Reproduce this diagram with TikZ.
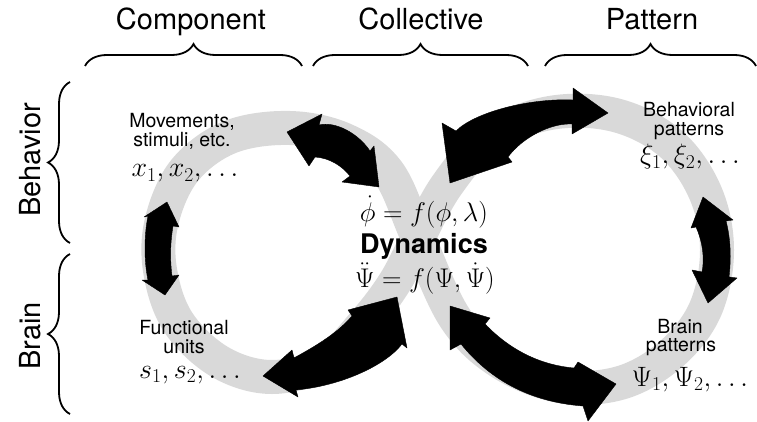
\RequirePackage{fix-cm}
\documentclass[tikz,border=0pt]{standalone}
\usepackage{fontspec}
\setmainfont{TeX Gyre Heros}
\usetikzlibrary{decorations.pathreplacing}
\begin{document}
\begin{tikzpicture}[x=1pt,y=-1pt,
  band/.style={line width=34pt, draw=black!15},
  fat/.style={fill=black, draw=black, line width=0.4pt, line join=round},
  hdr/.style={font=\fontsize{29}{32}\selectfont, anchor=base, inner sep=0pt},
  lbl/.style={font=\fontsize{19.5}{21}\selectfont, anchor=base, inner sep=0pt},
  mth/.style={font=\fontsize{28}{30}\selectfont, anchor=base, inner sep=0pt},
  cmth/.style={font=\fontsize{27}{30}\selectfont, anchor=base, inner sep=0pt},
  brc/.style={decorate, decoration={brace, amplitude=22pt}, line width=1.8pt},
]
\useasboundingbox (0,0) rectangle (757,422);

% grey figure-eight band
\draw[band] plot[smooth cycle, tension=0.6] coordinates {
  (418,238) (447,185) (490,137) (550,113) (615,115) (670,143) (705,192)
  (717,250) (705,310) (670,355) (620,383) (560,386) (500,362) (455,318)
  (418,238) (388,172) (345,140) (290,128) (230,137) (185,170) (162,220)
  (160,270) (178,322) (220,362) (272,377) (325,362) (365,322) (395,282)};

% braces
\draw[brc] (85,66) -- (302,66);
\draw[brc] (313,66) -- (528,66);
\draw[brc] (545,66) -- (756,66);
\draw[brc] (70,243) -- (70,82);
\draw[brc] (70,414) -- (70,254);

% headers
\node[hdr] (comp) at (191,30) {Component};
\node[hdr] (coll) at (421,30) {Collective};
\node[hdr] (patt) at (652,30) {Pattern};
\node[hdr, rotate=90] (beh) at (40,160) {Behavior};
\node[hdr, rotate=90] (brn) at (40,336) {Brain};

% fat double arrows
\fill[fat] (287,132) -- (322,114) -- (319,125) .. controls (335,121) and (358,133) .. (370,151)
  -- (374,146) -- (379,187) -- (342,182) -- (350,176) .. controls (342,166) and (330,158) .. (315,157)
  -- (309,166) -- cycle;
\fill[fat] (450,183) -- (442,123) -- (456,131) .. controls (475,112) and (530,98) .. (573,100)
  -- (573,88) -- (608,113) -- (572,134) -- (572,124) .. controls (550,123) and (522,138) .. (508,157)
  -- (512,162) -- cycle;
\fill[fat] (167,202) -- (179,227) -- (173,226) .. controls (170,245) and (170,260) .. (172,276)
  -- (179,275) -- (165,295) -- (142,280) -- (148,280) .. controls (144,262) and (144,235) .. (148,216)
  -- (144,217) -- cycle;
\fill[fat] (703,197) -- (733,220) -- (726,221) .. controls (731,240) and (731,260) .. (729,277)
  -- (737,278) -- (708,303) -- (692,270) -- (702,272) .. controls (705,258) and (702,240) .. (696,227)
  -- (691,228) -- cycle;
\fill[fat] (263,376) -- (292,350) -- (294,358) .. controls (308,350) and (335,336) .. (352,316)
  -- (348,310) -- (397,297) -- (407,348) -- (402,344) .. controls (385,366) and (340,386) .. (296,390)
  -- (298,397) -- cycle;
\fill[fat] (450,306) -- (490,318) -- (485,324) .. controls (510,350) and (540,365) .. (574,368)
  -- (578,362) -- (616,384) -- (588,421) -- (583,406) .. controls (530,402) and (490,380) .. (461,344)
  -- (450,350) -- cycle;

% centre
\node[cmth] (eqa) at (424,221) {$\dot\phi = f(\phi,\lambda)$};
\node[font=\bfseries\fontsize{27}{30}\selectfont, anchor=base, inner sep=0pt] (dyn) at (424,253) {Dynamics};
\node[cmth] (eqb) at (425,287) {$\ddot\Psi = f(\Psi,\dot\Psi)$};

% labels
\node[lbl] (mova) at (182,128) {Movements,};
\node[lbl] (movb) at (182,147) {stimuli, etc.};
\node[mth] (movx) at (185,177) {$x_1, x_2, \dots$};

\node[lbl] (bpa) at (689,117) {Behavioral};
\node[lbl] (bpb) at (689,136) {patterns};
\node[mth] (bpx) at (690,164) {$\xi_1, \xi_2, \dots$};

\node[lbl] (fua) at (184,334) {Functional};
\node[lbl] (fub) at (184,353) {units};
\node[mth] (fux) at (190,378) {$s_1, s_2, \dots$};

\node[lbl] (bra) at (680,333) {Brain};
\node[lbl] (brb) at (681,351) {patterns};
\node[mth] (brx) at (690,386) {$\Psi_1, \Psi_2, \dots$};
\end{tikzpicture}
\end{document}
